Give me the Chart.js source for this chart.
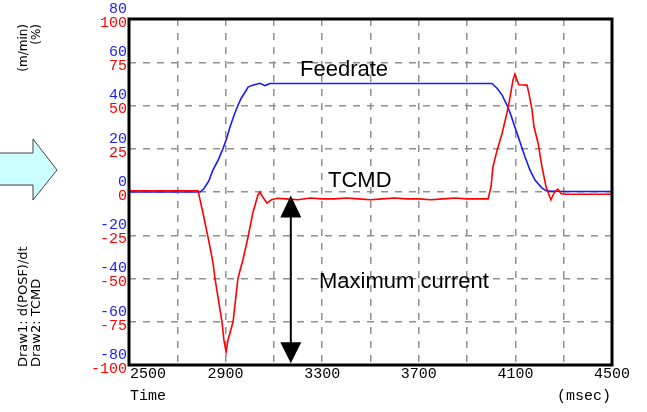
<!DOCTYPE html>
<html>
<head>
<meta charset="utf-8">
<script src="https://cdn.jsdelivr.net/npm/chart.js@4/dist/chart.umd.min.js"></script>
<style>
  body { margin: 0; background: #fff; }
  canvas { display: block; }
</style>
</head>
<body>
<canvas id="traceChart" width="647" height="412"></canvas>
<script>
// TCMD trace (red, % scale)
const timeTcmd = [2500, 2700, 2786, 2806, 2827, 2848, 2856, 2885, 2893, 2902, 2910, 2931, 2951, 2972, 2993, 3013, 3034, 3042, 3050, 3071, 3090, 3113,
  3150, 3200, 3250, 3300, 3350, 3400, 3450, 3500, 3550, 3600, 3650, 3700, 3750, 3800, 3850, 3900, 3950,
  3987, 3999, 4007, 4024, 4045, 4065, 4078, 4090, 4098, 4103, 4115, 4148, 4156, 4169, 4177, 4194, 4210, 4227, 4247, 4262, 4276, 4290, 4310, 4400, 4500];
const tcmd = [0.7, 0.7, 0.7, -12, -26, -41, -50, -75, -85.5, -92.5, -85.5, -75, -50, -39, -26, -12, -1.7, 0, -2, -6.4, -4.5, -3.6,
  -4, -4.5, -3.5, -4, -4, -3.5, -4, -4.5, -4, -3.5, -4, -4, -4.5, -4, -3.5, -4, -4,
  -4, 3, 14.5, 24, 34, 45.7, 55, 64.7, 68.2, 66, 62, 61.8, 57, 47.4, 37.7, 28.2, 14.6, 3, -4.6, 0, 1.7, -1, -1.3, -1.3, -1.3];

// Feedrate trace (blue, m/min scale)
const timeFeed = [2500, 2700, 2794, 2810, 2830, 2847, 2870, 2889, 2905, 2918, 2935, 2951, 2965, 2980, 2993, 3009, 3042, 3063, 3084, 3500, 4003,
  4024, 4045, 4065, 4078, 4098, 4119, 4140, 4160, 4181, 4210, 4231, 4300, 4500];
const feedrate = [0, 0, 0, 1.5, 5, 10, 15, 20, 25, 30, 35.5, 40, 43.5, 46, 48.5, 49.3, 50.3, 49.2, 50.2, 50.2, 50.2,
  48, 44.8, 40.2, 36.6, 30, 23.1, 16.2, 10.2, 5.5, 1.8, 0.4, 0.2, 0.2];

const feedTicks = [80, 60, 40, 20, 0, -20, -40, -60, -80];
const timeLabels = [2500, 2900, 3300, 3700, 4100, 4500];

const RED = "#ff0000";
const BLUE = "#1a1aff";
const MONO = "'Liberation Mono', 'DejaVu Sans Mono', monospace";

function toPoints(xs, ys) {
  return xs.map((x, i) => ({ x: x, y: ys[i] }));
}

const decorPlugin = {
  id: "decor",
  beforeDraw(chart) {
    const ctx = chart.ctx;
    ctx.save();
    // light cyan arrow on the left
    ctx.beginPath();
    ctx.moveTo(-2, 153);
    ctx.lineTo(33, 153);
    ctx.lineTo(33, 139);
    ctx.lineTo(57, 170);
    ctx.lineTo(33, 200);
    ctx.lineTo(33, 185);
    ctx.lineTo(-2, 185);
    ctx.closePath();
    ctx.fillStyle = "#ccffff";
    ctx.fill();
    ctx.strokeStyle = "#404040";
    ctx.lineWidth = 1;
    ctx.stroke();

    // rotated side captions
    ctx.fillStyle = "#000";
    ctx.font = "12px 'DejaVu Sans'";
    ctx.textBaseline = "alphabetic";
    ctx.save();
    ctx.translate(27, 24);
    ctx.rotate(-Math.PI / 2);
    ctx.textAlign = "right";
    ctx.fillText("(m/min)", 0, 0);
    ctx.fillText("(%)", 0, 13);
    ctx.restore();

    ctx.save();
    ctx.translate(27, 367);
    ctx.rotate(-Math.PI / 2);
    ctx.font = "13px 'DejaVu Sans'";
    ctx.textAlign = "left";
    ctx.fillText("Draw1: d(POSF)/dt", 0, 0);
    ctx.fillText("Draw2: TCMD", 0, 13);
    ctx.restore();
    ctx.restore();
  },
  afterDraw(chart) {
    const ctx = chart.ctx;
    const area = chart.chartArea;
    const x = chart.scales.x;
    const y = chart.scales.y;
    const y2 = chart.scales.y2;
    ctx.save();

    // frame
    ctx.strokeStyle = "#000";
    ctx.lineWidth = 3;
    ctx.strokeRect(area.left, area.top, area.right - area.left, area.bottom - area.top);

    // blue feedrate tick labels
    ctx.font = "15px " + MONO;
    ctx.fillStyle = BLUE;
    ctx.textAlign = "right";
    ctx.textBaseline = "middle";
    for (const v of feedTicks) {
      ctx.fillText(String(v), area.left - 2, y2.getPixelForValue(v) - 10);
    }

    // time tick labels
    ctx.fillStyle = "#000";
    for (let i = 0; i < timeLabels.length; i++) {
      const px = x.getPixelForValue(timeLabels[i]);
      if (i === 0) {
        ctx.textAlign = "left";
        ctx.fillText(String(timeLabels[i]), px + 1, area.bottom + 9);
      } else {
        ctx.textAlign = "center";
        ctx.fillText(String(timeLabels[i]), px, area.bottom + 9);
      }
    }
    ctx.textAlign = "left";
    ctx.fillText("Time", 130, 396);
    ctx.fillText("(msec)", 557, 396);

    // annotations
    ctx.font = "22px 'Liberation Sans', Arial, sans-serif";
    ctx.textBaseline = "alphabetic";
    ctx.fillText("Feedrate", 300, 76);
    ctx.fillText("TCMD", 328, 187);
    ctx.fillText("Maximum current", 319, 288);

    // double arrow for maximum current
    const ax = x.getPixelForValue(3170);
    const top = y.getPixelForValue(-2);
    const bot = y.getPixelForValue(-99);
    ctx.strokeStyle = "#000";
    ctx.lineWidth = 2;
    ctx.beginPath();
    ctx.moveTo(ax, top + 15);
    ctx.lineTo(ax, bot - 15);
    ctx.stroke();
    ctx.beginPath();
    ctx.moveTo(ax, top);
    ctx.lineTo(ax - 10.5, top + 22);
    ctx.lineTo(ax + 10.5, top + 22);
    ctx.closePath();
    ctx.moveTo(ax, bot);
    ctx.lineTo(ax - 10.5, bot - 21);
    ctx.lineTo(ax + 10.5, bot - 21);
    ctx.closePath();
    ctx.fillStyle = "#000";
    ctx.fill();
    ctx.restore();
  }
};

const gridStyle = {
  color: "#909090",
  lineWidth: 1.5,
  drawTicks: false,
  tickBorderDash: [7, 7]
};

new Chart(document.getElementById("traceChart"), {
  type: "line",
  data: {
    datasets: [
      {
        label: "TCMD",
        data: toPoints(timeTcmd, tcmd),
        borderColor: RED,
        borderWidth: 1.6,
        pointRadius: 0,
        tension: 0,
        yAxisID: "y"
      },
      {
        label: "Feedrate",
        data: toPoints(timeFeed, feedrate),
        borderColor: BLUE,
        borderWidth: 1.6,
        pointRadius: 0,
        tension: 0,
        yAxisID: "y2"
      }
    ]
  },
  options: {
    responsive: false,
    animation: false,
    layout: { padding: { left: 0, top: 19, right: 35, bottom: 47 } },
    plugins: {
      legend: { display: false },
      tooltip: { enabled: false }
    },
    scales: {
      x: {
        type: "linear",
        min: 2500,
        max: 4500,
        ticks: { stepSize: 200, display: false },
        grid: gridStyle,
        border: { display: false, dash: [7, 7] },
        afterFit: (s) => { s.height = 0; }
      },
      y: {
        position: "left",
        min: -100,
        max: 100,
        ticks: {
          stepSize: 25,
          color: RED,
          font: { family: MONO, size: 15 },
          padding: 2,
          labelOffset: 4
        },
        grid: gridStyle,
        border: { display: false, dash: [7, 7] },
        afterFit: (s) => { s.width = 129; }
      },
      y2: {
        display: false,
        min: -80,
        max: 80
      }
    }
  },
  plugins: [decorPlugin]
});
</script>
</body>
</html>
